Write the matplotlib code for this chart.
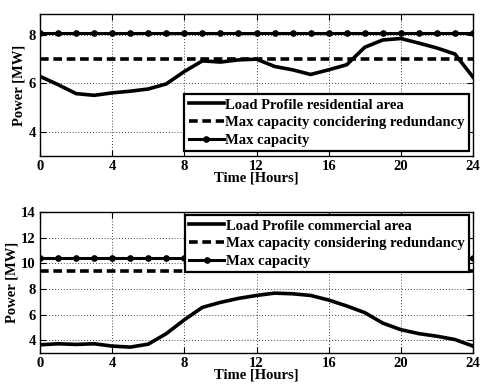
import matplotlib
matplotlib.use("Agg")
import matplotlib.pyplot as plt
import numpy as np

hours = list(range(25))
res_load = [6.28, 5.94, 5.57, 5.50, 5.60, 5.67, 5.76, 5.97, 6.48, 6.92, 6.87, 6.96, 6.99,
            6.69, 6.55, 6.36, 6.55, 6.76, 7.48, 7.78, 7.84, 7.65, 7.45, 7.20, 6.25]
res_redund = 7.0
res_max = 8.05

com_load = [3.64, 3.72, 3.67, 3.72, 3.54, 3.46, 3.69, 4.51, 5.59, 6.56, 6.95, 7.26, 7.49,
            7.67, 7.62, 7.49, 7.13, 6.67, 6.15, 5.33, 4.82, 4.51, 4.31, 4.05, 3.54]
com_redund = 9.38
com_max = 10.4

xticks = [0, 4, 8, 12, 16, 20, 24]
res_yticks = [4, 6, 8]
com_yticks = [4, 6, 8, 10, 12, 14]

plt.rcParams['font.family'] = ['Liberation Serif', 'DejaVu Serif']
plt.rcParams['font.weight'] = 'bold'

W, H = 482, 388
fig = plt.figure(figsize=(W / 100, H / 100), dpi=100)

def make_ax(left, top, right, bottom):
    return fig.add_axes([left / W, 1 - bottom / H, (right - left) / W, (bottom - top) / H])

ax1 = make_ax(40, 14, 473, 156)
ax2 = make_ax(40, 212, 473, 353)

def style(ax, load, red, mx, ylim, yticks, label, red_label):
    ax.plot(hours, load, color='black', lw=2.6, label=label)
    ax.plot(hours, [red] * len(hours), color='black', lw=2.6, ls=(0, (2.4, 1.3)),
            label=red_label)
    ax.plot(hours, [mx] * len(hours), color='black', lw=2.2, marker='o', ms=3.8,
            label='Max capacity')
    ax.set_xlim(0, 24)
    ax.set_ylim(*ylim)
    ax.set_xticks(xticks)
    ax.set_yticks(yticks)
    ax.grid(True, color='black', ls=(0, (1, 2.5)), lw=0.6)
    ax.tick_params(direction='in', top=True, right=True, length=4, width=0.8,
                   labelsize=10.5, pad=3)
    for t in ax.get_xticklabels() + ax.get_yticklabels():
        t.set_fontweight('bold')
    for s in ax.spines.values():
        s.set_linewidth(1.0)
    ax.set_xlabel('Time [Hours]', fontsize=10.5, fontweight='bold', labelpad=-1)
    ax.set_ylabel('Power [MW]', fontsize=10.5, fontweight='bold', labelpad=2)

style(ax1, res_load, res_redund, res_max, (3, 8.85), res_yticks,
      'Load Profile residential area', 'Max capacity concidering redundancy')
style(ax2, com_load, com_redund, com_max, (3, 14), com_yticks,
      'Load Profile commercial area', 'Max capacity considering redundancy')

def add_legend(ax, right, top):
    leg = ax.legend(loc='upper right',
                    bbox_to_anchor=(right / W, 1 - top / H),
                    bbox_transform=fig.transFigure,
                    prop={'family': 'Liberation Serif', 'weight': 'bold', 'size': 10.5},
                    frameon=True, fancybox=False, framealpha=1, edgecolor='black',
                    borderpad=0.3, labelspacing=0.3, handlelength=2.4,
                    handletextpad=0.1, borderaxespad=0)
    leg.get_frame().set_linewidth(1.6)
    leg.set_zorder(10)
    return leg

add_legend(ax1, 469, 94)
add_legend(ax2, 469, 215)

fig.savefig('out.png', dpi=100)
